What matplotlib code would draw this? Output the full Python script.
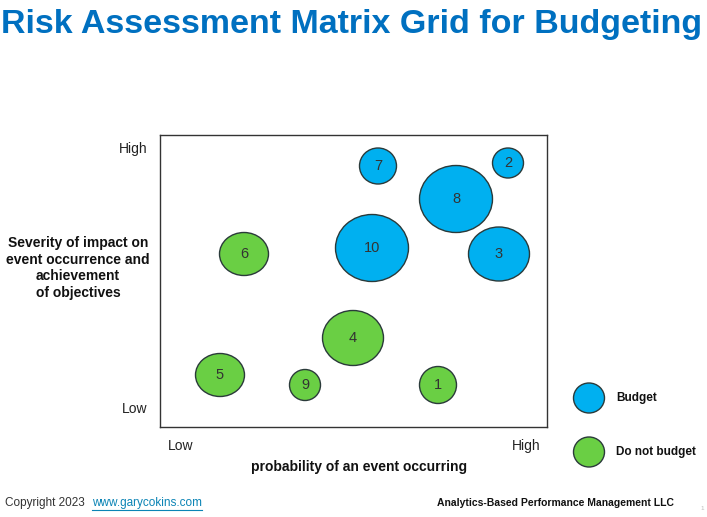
import matplotlib.pyplot as plt
from matplotlib.patches import Ellipse

# bubble data: probability (x), severity (y), bubble width/height, label, decision
labels = ['7', '2', '8', '10', '3', '6', '4', '5', '9', '1']
probability = [218, 348, 296, 212, 339, 84, 193, 60, 145, 278]
severity = [261, 264, 228, 179, 173, 173, 89, 52, 42, 42]
bubble_w = [37, 31, 73, 73, 61, 49, 61, 49, 31, 37]
bubble_h = [36, 30, 67, 67, 54, 43, 55, 43, 31, 37]
decision = ['Budget', 'Budget', 'Budget', 'Budget', 'Budget',
            'Do not budget', 'Do not budget', 'Do not budget', 'Do not budget', 'Do not budget']
colors = {'Budget': '#00B0F0', 'Do not budget': '#6ACF44'}

plt.rcParams['font.family'] = ['Liberation Sans', 'DejaVu Sans']

W, H = 707, 517
fig = plt.figure(figsize=(W / 100, H / 100), dpi=100)

# main grid
ax = fig.add_axes([160 / W, (H - 427) / H, 387 / W, 292 / H])
ax.set_xlim(0, 387)
ax.set_ylim(0, 292)
ax.set_xticks([])
ax.set_yticks([])
for s in ax.spines.values():
    s.set_color('#333333')
    s.set_linewidth(1)

for x, y, w, h, lab, d in zip(probability, severity, bubble_w, bubble_h, labels, decision):
    ax.add_patch(Ellipse((x, y), w, h, facecolor=colors[d], edgecolor='#2a3a3a', linewidth=1))
    ax.text(x, y, lab, ha='center', va='center', fontsize=10.5, color='#333333')

# overlay in pixel coords for labels
ov = fig.add_axes([0, 0, 1, 1], zorder=-1)
ov.set_xlim(0, W)
ov.set_ylim(H, 0)
ov.axis('off')

ov.text(352, 24, 'Risk Assessment Matrix Grid for Budgeting', ha='center', va='center',
        fontsize=24.5, fontweight='bold', color='#0070C0')

ov.text(147, 149, 'High', ha='right', va='center', fontsize=10, color='#222222')
ov.text(147, 409, 'Low', ha='right', va='center', fontsize=10, color='#222222')
ov.text(181, 446, 'Low', ha='center', va='center', fontsize=10, color='#222222')
ov.text(526, 446, 'High', ha='center', va='center', fontsize=10, color='#222222')
ov.text(359, 467, 'probability of an event occurring', ha='center', va='center',
        fontsize=10, fontweight='bold', color='#111111')
ov.text(78, 268, 'Severity of impact on\nevent occurrence and\nachievement\nof objectives',
        ha='center', va='center', fontsize=10, fontweight='bold', color='#111111',
        linespacing=1.25)

# legend
for yy, d in [(398, 'Budget'), (452, 'Do not budget')]:
    ov.add_patch(Ellipse((589, yy), 31, 30, facecolor=colors[d], edgecolor='#2a3a3a', linewidth=1))
    ov.text(616, yy, d, ha='left', va='center', fontsize=8.5, fontweight='bold', color='#111111')

# footer
ov.text(5, 503, 'Copyright 2023', ha='left', va='center', fontsize=8.5, color='#333333')
ov.text(92, 503, 'www.garycokins.com', ha='left', va='center', fontsize=8.5, color='#0B84B5')
ov.plot([92, 202], [510, 510], color='#0B84B5', linewidth=0.8)
ov.text(437, 503, 'Analytics-Based Performance Management LLC', ha='left', va='center',
        fontsize=7.5, fontweight='bold', color='#111111')
ov.text(702, 509, '1', ha='center', va='center', fontsize=4.5, color='#bbbbbb')

fig.savefig('out.png', dpi=100)
